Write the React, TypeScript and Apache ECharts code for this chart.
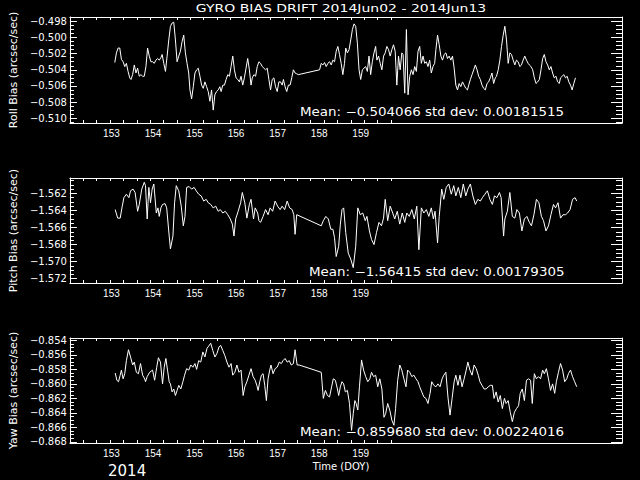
import React, { useEffect, useRef } from "react";
import * as echarts from "echarts";

const FONT = "DejaVu Sans";

const doy = [
  153.08, 153.12, 153.16, 153.20, 153.24, 153.28, 153.32, 153.36, 153.40, 153.44,
  153.47, 153.51, 153.55, 153.59, 153.63, 153.67, 153.71, 153.75, 153.79, 153.83,
  153.87, 153.91, 153.95, 153.99, 154.03, 154.07, 154.11, 154.15, 154.19, 154.22,
  154.26, 154.30, 154.34, 154.38, 154.42, 154.46, 154.50, 154.54, 154.58, 154.62,
  154.66, 154.70, 154.74, 154.78, 154.82, 154.86, 154.89, 154.93, 154.97, 155.01,
  155.05, 155.09, 155.13, 155.17, 155.21, 155.25, 155.29, 155.33, 155.37, 155.41,
  155.45, 155.49, 155.53, 155.57, 155.61, 155.64, 155.68, 155.72, 155.76, 155.80,
  155.84, 155.88, 155.92, 155.96, 156.00, 156.04, 156.08, 156.12, 156.16, 156.20,
  156.24, 156.28, 156.32, 156.36, 156.39, 156.43, 156.47, 156.51, 156.55, 156.59,
  156.63, 156.67, 156.71, 156.75, 156.79, 156.83, 156.87, 156.91, 156.95, 156.99,
  157.03, 157.07, 157.11, 157.14, 157.18, 157.22, 157.26, 157.30, 157.34, 157.38,
  157.42, 157.46, 157.50,
  158.01, 158.05, 158.09, 158.13, 158.17,
  158.21, 158.25, 158.29, 158.33, 158.37, 158.41, 158.45, 158.49, 158.53, 158.57,
  158.61, 158.64, 158.68, 158.72, 158.76, 158.80, 158.84, 158.88, 158.92, 158.96,
  159.00, 159.04, 159.08, 159.12, 159.16, 159.20, 159.24, 159.28, 159.32, 159.36,
  159.39, 159.43, 159.47, 159.51, 159.55, 159.59, 159.63, 159.67, 159.71, 159.75,
  159.79, 159.83, 159.87, 159.91, 159.95, 159.99, 160.02, 160.06, 160.10, 160.14,
  160.18, 160.22, 160.26, 160.30, 160.34, 160.38, 160.42, 160.46, 160.50, 160.54,
  160.58, 160.62, 160.66, 160.70, 160.74, 160.78, 160.81, 160.85, 160.89, 160.93,
  160.97, 161.01, 161.05, 161.09, 161.13, 161.17, 161.21, 161.25, 161.29, 161.33,
  161.37, 161.41, 161.45, 161.49, 161.53, 161.57, 161.60, 161.64, 161.68, 161.72,
  161.76, 161.80, 161.84, 161.88, 161.92, 161.96, 162.00, 162.04, 162.08, 162.12,
  162.16, 162.20, 162.24, 162.27, 162.31, 162.35, 162.39, 162.43, 162.47, 162.51,
  162.55, 162.59, 162.63, 162.67, 162.71, 162.75, 162.79, 162.83, 162.87, 162.91,
  162.95, 162.99, 163.03, 163.06, 163.10, 163.14, 163.18, 163.22, 163.26, 163.30,
  163.34, 163.38, 163.42, 163.46, 163.50, 163.54, 163.58, 163.62, 163.66, 163.70,
  163.74, 163.78, 163.81, 163.85, 163.89, 163.93, 163.97, 164.01, 164.05, 164.09,
  164.13, 164.17,
];

const rollBias = [
  -0.5031, -0.5019, -0.5013, -0.5013, -0.5027, -0.5030, -0.5036, -0.5032, -0.5042, -0.5050,
  -0.5052, -0.5046, -0.5034, -0.5044, -0.5038, -0.5048, -0.5046, -0.5048, -0.5048, -0.5036,
  -0.5013, -0.5023, -0.5030, -0.5030, -0.5032, -0.5028, -0.5026, -0.5028, -0.5025, -0.5021,
  -0.5032, -0.5042, -0.5023, -0.5003, -0.4986, -0.4982, -0.4981, -0.5003, -0.5030, -0.5023,
  -0.5017, -0.5005, -0.4997, -0.5019, -0.5032, -0.5044, -0.5065, -0.5076, -0.5061, -0.5044,
  -0.5040, -0.5038, -0.5048, -0.5059, -0.5063, -0.5055, -0.5061, -0.5067, -0.5079, -0.5065,
  -0.5090, -0.5071, -0.5067, -0.5065, -0.5061, -0.5067, -0.5059, -0.5059, -0.5052, -0.5046,
  -0.5048, -0.5036, -0.5023, -0.5040, -0.5050, -0.5052, -0.5055, -0.5048, -0.5059, -0.5050,
  -0.5038, -0.5026, -0.5040, -0.5059, -0.5050, -0.5046, -0.5048, -0.5036, -0.5030, -0.5032,
  -0.5036, -0.5038, -0.5040, -0.5038, -0.5052, -0.5065, -0.5052, -0.5050, -0.5061, -0.5067,
  -0.5055, -0.5055, -0.5059, -0.5052, -0.5061, -0.5067, -0.5059, -0.5059, -0.5050, -0.5040,
  -0.5044, -0.5045, -0.5046,
  -0.5040, -0.5032, -0.5034, -0.5031, -0.5036,
  -0.5032, -0.5030, -0.5034, -0.5028, -0.5030, -0.5017, -0.5011, -0.5021, -0.5032, -0.5046,
  -0.5032, -0.5013, -0.5019, -0.5015, -0.5003, -0.4990, -0.4983, -0.4986, -0.5007, -0.5040,
  -0.5052, -0.5040, -0.5038, -0.5036, -0.5042, -0.5023, -0.5046, -0.5030, -0.5019, -0.5011,
  -0.5028, -0.5023, -0.5032, -0.5040, -0.5023, -0.5019, -0.5011, -0.5015, -0.5023, -0.5015,
  -0.5009, -0.5017, -0.5059, -0.5023, -0.5040, -0.5019, -0.5021, -0.5069, -0.4990, -0.5071,
  -0.5048, -0.5040, -0.5046, -0.5036, -0.5042, -0.5017, -0.5011, -0.5032, -0.5023, -0.5032,
  -0.5030, -0.5036, -0.5028, -0.5044, -0.5036, -0.5032, -0.5015, -0.4997, -0.5009, -0.5023,
  -0.5028, -0.5021, -0.5019, -0.5026, -0.5023, -0.5028, -0.5023, -0.5038, -0.5059, -0.5065,
  -0.5057, -0.5061, -0.5055, -0.5059, -0.5063, -0.5065, -0.5059, -0.5052, -0.5046, -0.5040,
  -0.5034, -0.5040, -0.5048, -0.5052, -0.5059, -0.5063, -0.5065, -0.5057, -0.5055, -0.5050,
  -0.5044, -0.5057, -0.5050, -0.5048, -0.5040, -0.5028, -0.5011, -0.4997, -0.4986, -0.5003,
  -0.5032, -0.5019, -0.5021, -0.5028, -0.5034, -0.5028, -0.5030, -0.5036, -0.5034, -0.5028,
  -0.5023, -0.5028, -0.5032, -0.5034, -0.5036, -0.5040, -0.5050, -0.5057, -0.5055, -0.5052,
  -0.5040, -0.5026, -0.5021, -0.5030, -0.5034, -0.5040, -0.5036, -0.5044, -0.5050, -0.5048,
  -0.5055, -0.5057, -0.5050, -0.5048, -0.5046, -0.5050, -0.5048, -0.5055, -0.5059, -0.5065,
  -0.5057, -0.5050,
];

const pitchDoy = [
  153.09, 153.15, 153.21, 153.26, 153.30, 153.36, 153.42, 153.46, 153.52, 153.57,
  153.63, 153.67, 153.73, 153.79, 153.82, 153.86, 153.90, 153.94, 153.98, 154.02,
  154.08, 154.12, 154.15, 154.19, 154.23, 154.29, 154.33, 154.39, 154.42, 154.48,
  154.52, 154.56, 154.62, 154.68, 154.73, 154.77, 154.81, 154.87, 154.93, 154.99,
  155.04, 155.10, 155.16, 155.22, 155.28, 155.33, 155.39, 155.45, 155.51, 155.57,
  155.62, 155.68, 155.74, 155.80, 155.86, 155.91, 155.95, 155.99, 156.05, 156.11,
  156.15, 156.21, 156.26, 156.32, 156.36, 156.42, 156.46, 156.52, 156.55, 156.59,
  156.65, 156.71, 156.77, 156.82, 156.88, 156.94, 157.00, 157.06, 157.11, 157.17,
  157.23, 157.29, 157.35, 157.39, 157.42, 157.46,
  158.05, 158.10, 158.16, 158.22, 158.28, 158.33, 158.37, 158.41, 158.47, 158.51,
  158.55, 158.59, 158.64, 158.70, 158.76, 158.82, 158.88, 158.93, 158.99, 159.05,
  159.11, 159.15, 159.21, 159.26, 159.32, 159.38, 159.44, 159.50, 159.55, 159.59,
  159.65, 159.71, 159.77, 159.82, 159.88, 159.94, 160.00, 160.06, 160.11, 160.17,
  160.23, 160.29, 160.35, 160.40, 160.46, 160.52, 160.58, 160.64, 160.70, 160.75,
  160.79, 160.85, 160.89, 160.95, 161.00, 161.06, 161.12, 161.18, 161.24, 161.29,
  161.35, 161.41, 161.47, 161.53, 161.58, 161.64, 161.70, 161.76, 161.82, 161.88,
  161.93, 161.99, 162.05, 162.11, 162.17, 162.22, 162.28, 162.34, 162.38, 162.44,
  162.47, 162.53, 162.59, 162.65, 162.71, 162.76, 162.82, 162.88, 162.94, 163.00,
  163.06, 163.11, 163.17, 163.23, 163.29, 163.35, 163.40, 163.46, 163.52, 163.58,
  163.64, 163.69, 163.75, 163.81, 163.87, 163.93, 163.98, 164.04, 164.10, 164.16,
  164.20,
];
const pitchBias = [
  -1.5639, -1.5649, -1.5649, -1.5635, -1.5625, -1.5621, -1.5625, -1.5617, -1.5615, -1.5619,
  -1.5641, -1.5633, -1.5615, -1.5607, -1.5611, -1.5650, -1.5613, -1.5631, -1.5615, -1.5609,
  -1.5643, -1.5637, -1.5647, -1.5637, -1.5633, -1.5632, -1.5637, -1.5670, -1.5685, -1.5670,
  -1.5631, -1.5611, -1.5617, -1.5635, -1.5658, -1.5647, -1.5613, -1.5612, -1.5615, -1.5613,
  -1.5617, -1.5621, -1.5623, -1.5629, -1.5627, -1.5631, -1.5633, -1.5637, -1.5635, -1.5641,
  -1.5639, -1.5643, -1.5641, -1.5645, -1.5650, -1.5656, -1.5670, -1.5650, -1.5641, -1.5631,
  -1.5619, -1.5631, -1.5649, -1.5633, -1.5627, -1.5650, -1.5637, -1.5643, -1.5652, -1.5654,
  -1.5647, -1.5639, -1.5645, -1.5637, -1.5641, -1.5629, -1.5635, -1.5639, -1.5635, -1.5639,
  -1.5629, -1.5637, -1.5639, -1.5645, -1.5668, -1.5645,
  -1.5658, -1.5652, -1.5647, -1.5650, -1.5662, -1.5662, -1.5672, -1.5694, -1.5682, -1.5656,
  -1.5639, -1.5637, -1.5666, -1.5690, -1.5697, -1.5707, -1.5682, -1.5637, -1.5645, -1.5643,
  -1.5652, -1.5647, -1.5664, -1.5674, -1.5680, -1.5666, -1.5654, -1.5658, -1.5649, -1.5627,
  -1.5652, -1.5635, -1.5643, -1.5650, -1.5641, -1.5656, -1.5643, -1.5654, -1.5643, -1.5647,
  -1.5639, -1.5650, -1.5635, -1.5686, -1.5637, -1.5643, -1.5639, -1.5647, -1.5637, -1.5650,
  -1.5641, -1.5678, -1.5647, -1.5615, -1.5627, -1.5613, -1.5609, -1.5621, -1.5611, -1.5623,
  -1.5613, -1.5625, -1.5609, -1.5623, -1.5615, -1.5609, -1.5623, -1.5633, -1.5627, -1.5629,
  -1.5625, -1.5621, -1.5617, -1.5627, -1.5633, -1.5623, -1.5625, -1.5619, -1.5625, -1.5670,
  -1.5650, -1.5641, -1.5619, -1.5647, -1.5649, -1.5639, -1.5643, -1.5664, -1.5650, -1.5647,
  -1.5654, -1.5658, -1.5645, -1.5627, -1.5631, -1.5647, -1.5652, -1.5664, -1.5658, -1.5645,
  -1.5633, -1.5637, -1.5631, -1.5649, -1.5645, -1.5645, -1.5643, -1.5639, -1.5627, -1.5625,
  -1.5629,
];

const yawDoy = [
  153.09, 153.13, 153.17, 153.21, 153.24, 153.28, 153.32, 153.36, 153.41, 153.46,
  153.51, 153.55, 153.60, 153.65, 153.70, 153.75, 153.80, 153.82, 153.86, 153.92,
  153.99, 154.04, 154.09, 154.13, 154.18, 154.23, 154.27, 154.31, 154.35, 154.39,
  154.42, 154.46, 154.50, 154.54, 154.58, 154.62, 154.67, 154.72, 154.76, 154.81,
  154.86, 154.91, 154.96, 155.01, 155.05, 155.10, 155.15, 155.20, 155.25, 155.30,
  155.34, 155.39, 155.44, 155.49, 155.54, 155.59, 155.63, 155.68, 155.73, 155.78,
  155.83, 155.88, 155.92, 155.97, 156.02, 156.07, 156.12, 156.17, 156.21, 156.26,
  156.31, 156.36, 156.41, 156.46, 156.50, 156.53, 156.57, 156.61, 156.65, 156.69,
  156.73, 156.77, 156.81, 156.84, 156.89, 156.94, 156.99, 157.04, 157.09, 157.13,
  157.18, 157.23, 157.28, 157.33, 157.38, 157.42, 157.47, 157.52,
  158.05, 158.10, 158.15, 158.20, 158.25, 158.30, 158.34, 158.39, 158.44, 158.47,
  158.51, 158.55, 158.59, 158.63, 158.68, 158.73, 158.78, 158.82, 158.86, 158.89,
  158.93, 158.97, 159.02, 159.07,
  159.12, 159.17, 159.22, 159.26, 159.31, 159.36, 159.41, 159.46, 159.51, 159.56,
  159.60, 159.65, 159.70, 159.75, 159.80, 159.84, 159.89, 159.94, 159.99, 160.04,
  160.09, 160.13, 160.18, 160.23, 160.28, 160.33, 160.38, 160.42, 160.47, 160.52,
  160.57, 160.62, 160.67, 160.71, 160.76, 160.81, 160.86, 160.91, 160.96, 161.00,
  161.05, 161.10, 161.15, 161.20, 161.25, 161.29, 161.34, 161.39, 161.44, 161.49,
  161.54, 161.58, 161.63, 161.68, 161.73, 161.78, 161.83, 161.87, 161.92, 161.97,
  162.02, 162.07, 162.12, 162.17, 162.21, 162.26, 162.31, 162.36, 162.41, 162.46,
  162.50, 162.55, 162.60, 162.65, 162.70, 162.75, 162.80, 162.84, 162.89, 162.94,
  162.99, 163.04, 163.09, 163.13, 163.18, 163.23, 163.28, 163.33, 163.38, 163.42,
  163.47, 163.52, 163.57, 163.62, 163.67, 163.71, 163.76, 163.81, 163.86, 163.91,
  163.96, 164.00, 164.05, 164.10, 164.15, 164.20,
];
const yawBias = [
  -0.8585, -0.8595, -0.8597, -0.8588, -0.8581, -0.8593, -0.8586, -0.8568, -0.8553, -0.8563,
  -0.8574, -0.8570, -0.8584, -0.8586, -0.8572, -0.8588, -0.8593, -0.8597, -0.8590, -0.8584,
  -0.8581, -0.8595, -0.8577, -0.8564, -0.8570, -0.8600, -0.8577, -0.8565, -0.8581, -0.8597,
  -0.8600, -0.8611, -0.8607, -0.8616, -0.8609, -0.8602, -0.8607, -0.8597, -0.8588, -0.8579,
  -0.8581, -0.8574, -0.8577, -0.8572, -0.8580, -0.8568, -0.8570, -0.8556, -0.8563, -0.8551,
  -0.8548, -0.8544, -0.8554, -0.8563, -0.8558, -0.8549, -0.8547, -0.8554, -0.8561, -0.8570,
  -0.8577, -0.8572, -0.8588, -0.8584, -0.8574, -0.8584, -0.8581, -0.8616, -0.8604, -0.8597,
  -0.8588, -0.8579, -0.8590, -0.8595, -0.8602, -0.8609, -0.8597, -0.8588, -0.8586, -0.8602,
  -0.8623, -0.8593, -0.8581, -0.8574, -0.8586, -0.8579, -0.8577, -0.8570, -0.8572, -0.8568,
  -0.8565, -0.8570, -0.8568, -0.8574, -0.8572, -0.8553, -0.8574, -0.8574,
  -0.8584, -0.8620, -0.8609, -0.8616, -0.8618, -0.8604, -0.8593, -0.8595, -0.8607, -0.8616,
  -0.8604, -0.8597, -0.8600, -0.8611, -0.8609, -0.8627, -0.8664, -0.8641, -0.8623, -0.8627,
  -0.8636, -0.8604, -0.8567, -0.8581,
  -0.8590, -0.8597, -0.8593, -0.8584, -0.8590, -0.8588, -0.8604, -0.8593, -0.8607, -0.8646,
  -0.8641, -0.8627, -0.8636, -0.8650, -0.8657, -0.8634, -0.8595, -0.8574, -0.8581, -0.8593,
  -0.8604, -0.8581, -0.8584, -0.8590, -0.8588, -0.8593, -0.8597, -0.8604, -0.8611, -0.8618,
  -0.8620, -0.8627, -0.8613, -0.8597, -0.8602, -0.8604, -0.8600, -0.8604, -0.8593, -0.8588,
  -0.8584, -0.8618, -0.8643, -0.8620, -0.8597, -0.8588, -0.8602, -0.8588, -0.8604, -0.8593,
  -0.8581, -0.8570, -0.8581, -0.8588, -0.8574, -0.8579, -0.8588, -0.8597, -0.8602, -0.8607,
  -0.8607, -0.8604, -0.8602, -0.8602, -0.8620, -0.8611, -0.8625, -0.8616, -0.8634, -0.8620,
  -0.8627, -0.8623, -0.8639, -0.8652, -0.8639, -0.8634, -0.8630, -0.8613, -0.8607, -0.8623,
  -0.8595, -0.8593, -0.8595, -0.8627, -0.8586, -0.8593, -0.8590, -0.8593, -0.8581, -0.8586,
  -0.8579, -0.8593, -0.8609, -0.8600, -0.8613, -0.8597, -0.8584, -0.8572, -0.8581, -0.8597,
  -0.8593, -0.8586, -0.8581, -0.8590, -0.8597, -0.8604,
];

const dayLabels = [153, 154, 155, 156, 157, 158, 159];
const rollTicks = [-0.51, -0.508, -0.506, -0.504, -0.502, -0.5, -0.498];
const pitchTicks = [-1.572, -1.57, -1.568, -1.566, -1.564, -1.562];
const yawTicks = [-0.868, -0.866, -0.864, -0.862, -0.86, -0.858, -0.856, -0.854];

const titleText = "GYRO BIAS DRIFT 2014Jun02 - 2014Jun13";
const statsText = [
  "Mean: \u22120.504066 std dev: 0.00181515",
  "Mean: \u22121.56415 std dev: 0.00179305",
  "Mean: \u22120.859680 std dev: 0.00224016",
];
const axisNames = ["Roll Bias (arcsec/sec)", "Pitch Bias (arcsec/sec)", "Yaw Bias (arcsec/sec)"];

const panels = [
  { top: 17, height: 106, min: -0.5106, max: -0.49745, ticks: rollTicks, x: doy, y: rollBias, mean: 112, statX: 300 },
  { top: 178, height: 105, min: -1.5725, max: -1.5602, ticks: pitchTicks, x: pitchDoy, y: pitchBias, mean: 272, statX: 309 },
  { top: 338, height: 105, min: -0.86814, max: -0.85368, ticks: yawTicks, x: yawDoy, y: yawBias, mean: 432, statX: 300 },
];

const X_MIN = 152;
const X_MAX = 165.29;
const GRID_LEFT = 61;
const GRID_W = 561;
const TICK_SPACING = 13.59;

function minorsFor(min: number, max: number) {
  const out: number[] = [];
  const start = Math.ceil(min / 0.0005 - 1e-6);
  const end = Math.floor(max / 0.0005 + 1e-6);
  for (let i = start; i <= end; i++) out.push(+(i * 0.0005).toFixed(5));
  return out;
}

function fmt(v: number) {
  const s = Math.abs(v).toFixed(3);
  return (v < 0 ? "\u2212" : "") + s;
}

function buildOption() {
  const white = "#ffffff";
  const grid: any[] = [];
  const xAxis: any[] = [];
  const yAxis: any[] = [];
  const series: any[] = [];
  const tickAxisMax = GRID_W / TICK_SPACING;
  const tickVals: number[] = [];
  for (let i = 1; i <= 24; i++) tickVals.push(i);

  panels.forEach((p, i) => {
    grid.push({ left: GRID_LEFT, top: p.top, width: GRID_W, height: p.height, containLabel: false });
    const line = { show: true, lineStyle: { color: white, width: 1 } };
    xAxis.push({
      type: "value", gridIndex: i, position: "bottom", min: X_MIN, max: X_MAX,
      axisLine: line, axisTick: { show: false }, splitLine: { show: false },
      axisLabel: {
        show: true, customValues: dayLabels, color: white, fontFamily: "Liberation Sans", fontSize: 10, margin: 5,
        formatter: (v: number) => String(Math.round(v)),
      },
    });
    xAxis.push({
      type: "value", gridIndex: i, position: "top", min: X_MIN, max: X_MAX,
      axisLine: line, axisTick: { show: false }, splitLine: { show: false }, axisLabel: { show: false },
    });
    xAxis.push({
      type: "value", gridIndex: i, position: "bottom", min: 0, max: tickAxisMax,
      axisLine: { show: false }, splitLine: { show: false }, axisLabel: { show: false },
      axisTick: { show: true, inside: true, length: 3, customValues: tickVals, lineStyle: { color: white } },
    });
    xAxis.push({
      type: "value", gridIndex: i, position: "top", min: 0, max: tickAxisMax,
      axisLine: { show: false }, splitLine: { show: false }, axisLabel: { show: false },
      axisTick: { show: true, inside: true, length: 3, customValues: tickVals, lineStyle: { color: white } },
    });
    const minors = minorsFor(p.min, p.max);
    yAxis.push({
      type: "value", gridIndex: i, position: "left", min: p.min, max: p.max,
      axisLine: line, splitLine: { show: false },
      axisTick: { show: true, inside: true, length: 7, customValues: p.ticks, lineStyle: { color: white } },
      axisLabel: {
        show: true, customValues: p.ticks, color: white, fontFamily: FONT, fontSize: 10, margin: 3,
        formatter: (v: number) => fmt(v),
      },
      name: axisNames[i], nameLocation: "middle", nameRotate: 90, nameGap: 47,
      nameTextStyle: { color: white, fontFamily: FONT, fontSize: 11 },
    });
    yAxis.push({
      type: "value", gridIndex: i, position: "left", min: p.min, max: p.max,
      axisLine: { show: false }, splitLine: { show: false }, axisLabel: { show: false },
      axisTick: { show: true, inside: true, length: 4, customValues: minors, lineStyle: { color: white } },
    });
    yAxis.push({
      type: "value", gridIndex: i, position: "right", min: p.min, max: p.max,
      axisLine: line, splitLine: { show: false }, axisLabel: { show: false },
      axisTick: { show: true, inside: true, length: 11, customValues: p.ticks, lineStyle: { color: white } },
    });
    yAxis.push({
      type: "value", gridIndex: i, position: "right", min: p.min, max: p.max,
      axisLine: { show: false }, splitLine: { show: false }, axisLabel: { show: false },
      axisTick: { show: true, inside: true, length: 6, customValues: minors, lineStyle: { color: white } },
    });
    series.push({
      type: "line", xAxisIndex: i * 4, yAxisIndex: i * 4,
      data: p.x.map((t, k) => [t, p.y[k]]),
      showSymbol: false, symbol: "none", lineStyle: { color: white, width: 1 }, silent: true,
    });
  });

  const text = (x: number, y: number, t: string, size: number, align = "left", sx = 1) => ({
    type: "text", x, y, scaleX: sx,
    style: { text: t, fill: white, font: `${size}px "${FONT}"`, textAlign: align, textVerticalAlign: "middle" },
  });

  return {
    animation: false,
    backgroundColor: "#000000",
    grid, xAxis, yAxis, series,
    graphic: [
      text(341, 9, titleText, 10, "center", 1.4),
      ...panels.map((p, i) => text(p.statX, p.mean, statsText[i], 12, "left", 1.12)),
      text(341, 466, "Time (DOY)", 10, "center"),
      text(108, 471, "2014", 15),
    ],
  };
}

export default function App() {
  const ref = useRef<HTMLDivElement>(null);
  useEffect(() => {
    const chart = echarts.init(ref.current!, null, { renderer: "svg" });
    chart.setOption(buildOption() as any);
    return () => chart.dispose();
  }, []);
  return (
    <div
      ref={ref}
      style={{ position: "absolute", left: 0, top: 0, width: 640, height: 480, background: "#000" }}
    />
  );
}
